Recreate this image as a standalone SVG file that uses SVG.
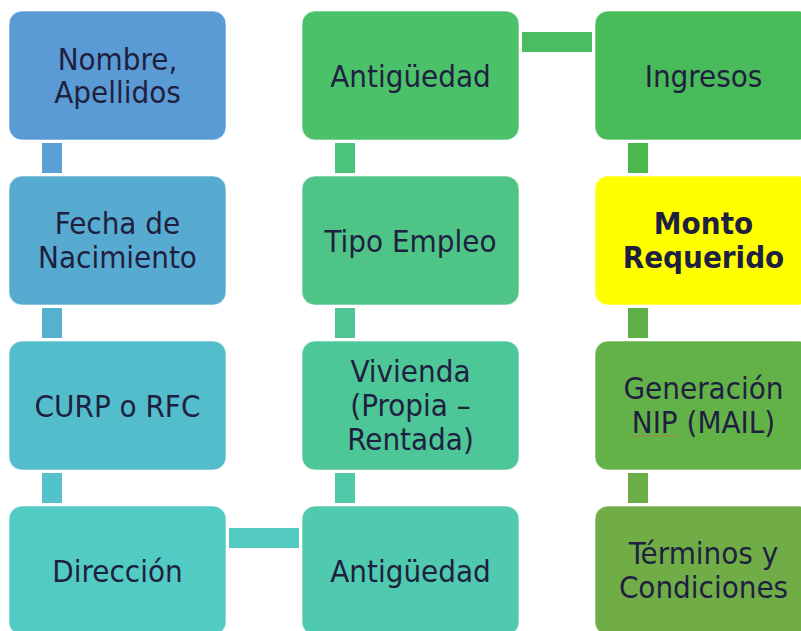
<svg xmlns="http://www.w3.org/2000/svg" width="801" height="631" viewBox="0 0 801 631">
<style>
.box{stroke:#ffffff;stroke-width:1;stroke-opacity:0.6}
.t{font-family:"DejaVu Sans Condensed","DejaVu Sans",sans-serif;font-stretch:condensed;font-size:31px;fill:#1F1F40;text-anchor:middle}
.b{font-weight:bold}
</style>
<rect width="801" height="631" fill="#ffffff"/>
<g id="connectors">
<rect x="42" y="143" width="20" height="30" fill="#5AA0D4"/>
<rect x="42" y="308" width="20" height="30" fill="#56B1CF"/>
<rect x="42" y="473" width="20" height="30" fill="#53C2CA"/>
<rect x="229" y="528" width="70" height="20" fill="#53CAC0"/>
<rect x="335" y="473" width="20" height="30" fill="#4FC9A8"/>
<rect x="335" y="308" width="20" height="30" fill="#4EC592"/>
<rect x="335" y="143" width="20" height="30" fill="#4CC37A"/>
<rect x="522" y="32" width="70" height="20" fill="#4ABD62"/>
<rect x="628" y="143" width="20" height="30" fill="#4AB84A"/>
<rect x="628" y="308" width="20" height="30" fill="#5DB146"/>
<rect x="628" y="473" width="20" height="30" fill="#6BAE47"/>
</g>
<g id="n1"><rect class="box" x="9" y="11" width="217" height="129" rx="13" fill="#5B9BD5"/><text class="t" x="117.5" y="70">Nombre,</text><text class="t" x="117.5" y="103">Apellidos</text></g>
<g id="n2"><rect class="box" x="9" y="176" width="217" height="129" rx="13" fill="#57ABD0"/><text class="t" x="117.5" y="234">Fecha de</text><text class="t" x="117.5" y="268">Nacimiento</text></g>
<g id="n3"><rect class="box" x="9" y="341" width="217" height="129" rx="13" fill="#53BDCC"/><text class="t" x="117.5" y="417">CURP o RFC</text></g>
<g id="n4"><rect class="box" x="9" y="506" width="217" height="129" rx="13" fill="#52CBC4"/><text class="t" x="117.5" y="582">Dirección</text></g>
<g id="n5"><rect class="box" x="302" y="506" width="217" height="129" rx="13" fill="#4FCAAE"/><text class="t" x="410.5" y="582">Antigüedad</text></g>
<g id="n6"><rect class="box" x="302" y="341" width="217" height="129" rx="13" fill="#4DC698"/><text class="t" x="410.5" y="382">Vivienda</text><text class="t" x="410.5" y="416">(Propia –</text><text class="t" x="410.5" y="450">Rentada)</text></g>
<g id="n7"><rect class="box" x="302" y="176" width="217" height="129" rx="13" fill="#4EC587"/><text class="t" x="410.5" y="252">Tipo Empleo</text></g>
<g id="n8"><rect class="box" x="302" y="11" width="217" height="129" rx="13" fill="#4BC16A"/><text class="t" x="410.5" y="87">Antigüedad</text></g>
<g id="n9"><rect class="box" x="595" y="11" width="217" height="129" rx="13" fill="#4ABB5A"/><text class="t" x="703.5" y="87">Ingresos</text></g>
<g id="n10"><rect class="box" x="595" y="176" width="217" height="129" rx="13" fill="#FFFF00"/><text class="t b" x="703.5" y="234">Monto</text><text class="t b" x="703.5" y="268">Requerido</text></g>
<g id="n11"><rect class="box" x="595" y="341" width="217" height="129" rx="13" fill="#62B248"/><text class="t" x="703.5" y="399">Generación</text><text class="t" x="703.5" y="433">NIP (MAIL)</text><line x1="631" y1="436" x2="677" y2="436" stroke="#B0804A" stroke-width="1"/></g>
<g id="n12"><rect class="box" x="595" y="506" width="217" height="129" rx="13" fill="#70AD47"/><text class="t" x="703.5" y="564">Términos y</text><text class="t" x="703.5" y="598">Condiciones</text></g>
</svg>
